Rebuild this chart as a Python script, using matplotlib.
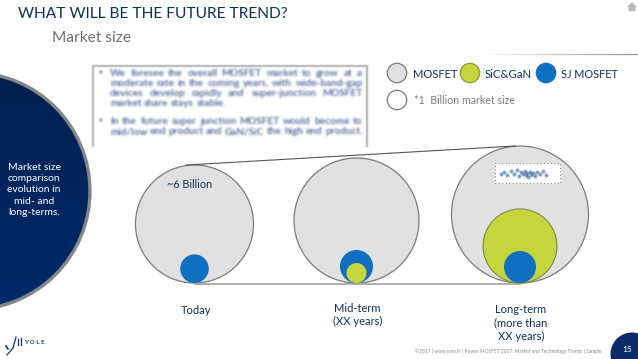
import numpy as np
import matplotlib
matplotlib.use("Agg")
import matplotlib.pyplot as plt
from matplotlib.patches import Circle, Polygon, Rectangle

plt.rcParams['font.family'] = ['Lato', 'DejaVu Sans']

# Schematic market-size circles, radius read in pixels
stages = ["Today", "Mid-term\n(XX years)", "Long-term\n(more than\nXX years)"]
stage_x = [194.5, 356.5, 520.0]
mosfet_r = [59.0, 62.5, 68.5]
sj_r = [14.3, 16.5, 16.0]
wbg_r = [0.0, 10.0, 37.0]
baseline_y = 283.0

NAVY = "#0f3057"
GREY_FILL = "#e1e1e1"
EDGE = "#7b7b7b"
GREEN = "#c5d53d"
BLUE = "#0f6fc0"
DARK = "#0a2b66"

legend_names = ["MOSFET", "SiC&GaN", "SJ MOSFET"]

body_lines = [
    ("We foresee the overall MOSFET market to grow at a", 73, True),
    ("moderate rate in the coming years, with wide-band-gap", 84, True),
    ("devices develop rapidly and super-junction MOSFET", 94, True),
    ("market share stays stable.", 104, False),
    ("In the future super junction MOSFET would become to", 121, True),
    ("mid/low end product and GaN/SiC the high end product.", 132, True),
]

# speckle seen in the masked area of the long-term circle
speck_x = [501, 504, 507, 511, 514, 517, 519, 521, 523, 525, 526, 527, 528, 530, 531, 533, 535, 537, 540, 543, 546]
speck_y = [174, 172, 175, 171, 174, 170, 176, 172, 174, 171, 175, 173, 177, 172, 175, 173, 176, 172, 174, 171, 175]


def blur(sigma):
    def f(img, dpi):
        rad = int(3 * sigma) + 1
        k = np.exp(-0.5 * (np.arange(-rad, rad + 1) / sigma) ** 2)
        k /= k.sum()
        pad = rad + 2
        out = np.zeros((img.shape[0] + 2 * pad, img.shape[1] + 2 * pad, 4))
        out[pad:-pad, pad:-pad] = img
        out[..., :3] *= out[..., 3:4]
        out = np.apply_along_axis(lambda v: np.convolve(v, k, mode="same"), 0, out)
        out = np.apply_along_axis(lambda v: np.convolve(v, k, mode="same"), 1, out)
        a = np.clip(out[..., 3:4], 1e-4, None)
        out[..., :3] = np.clip(out[..., :3] / a, 0, 1)
        return out, -pad, -pad
    return f


fig = plt.figure(figsize=(6.38, 3.59), dpi=100)
ax = fig.add_axes([0, 0, 1, 1])
ax.set_xlim(0, 638)
ax.set_ylim(359, 0)
ax.axis("off")
renderer = fig.canvas.get_renderer()

# titles
ax.text(18, 14, "WHAT WILL BE THE FUTURE TREND?", fontsize=11.2, color=NAVY,
        va="center", ha="left")
ax.text(52, 38, "Market size", fontsize=11.2, color="#6e6e6e", va="center", ha="left")

# faded rule at top right
xs = np.linspace(480, 638, 80)
for a, b, t in zip(xs[:-1], xs[1:], np.linspace(0, 1, 79)):
    ax.plot([a, b], [53.5, 53.5], color="#8a8a8a", alpha=t, lw=0.9, solid_capstyle="butt")

# home icon
ax.add_patch(Polygon([[627, 7], [632, 2], [637, 7], [635.5, 7], [635.5, 11], [628.5, 11], [628.5, 7]],
                     closed=True, fc="#b9b9b9", ec="none"))

# left navy disc, with the slide's vertical shading
disc = Circle((-28.5, 191), 118.5, fc="none", ec="#85868a", lw=2.4, zorder=3)
ax.add_patch(disc)
grad = np.linspace(0, 1, 128)[:, None]
cm = matplotlib.colors.LinearSegmentedColormap.from_list("n", ["#00204f", "#002a6c"])
im = ax.imshow(grad, extent=(-150, 92, 312, 70), cmap=cm, aspect="auto", zorder=2)
im.set_clip_path(Circle((-28.5, 191), 118.5, transform=ax.transData))
ax.set_xlim(0, 638)
ax.set_ylim(359, 0)
ax.text(34, 190, "Market size\ncomparison\nevolution in\nmid- and\nlong-terms.", color="white",
        fontsize=7.5, ha="center", va="center", linespacing=1.3, zorder=4)

# blurred text box, open at the bottom
ln, = ax.plot([93, 93, 367, 367], [146, 66, 66, 146], color="#b4b4b4", lw=1.5)
ln.set_agg_filter(blur(0.6))
LEFT, RIGHT = 110, 362
for s, y, justify in body_lines:
    words = s.split(" ")
    widths = []
    for w in words:
        probe = ax.text(0, 0, w, fontsize=7.2)
        widths.append(probe.get_window_extent(renderer).width)
        probe.remove()
    gap = (RIGHT - LEFT - sum(widths)) / (len(words) - 1) if justify else 3.0
    x = LEFT
    for w, width in zip(words, widths):
        t = ax.text(x, y, w, fontsize=7.2, color="#5a72a0", va="center", ha="left", fontweight="bold")
        t.set_agg_filter(blur(1.1))
        x += width + gap
for y in (73, 121):
    t = ax.text(98, y, "•", fontsize=7, color="#a5b0c5", va="center", ha="left")
    t.set_agg_filter(blur(0.7))

# legend
leg_x = [397, 470, 546]
leg_c = [GREY_FILL, GREEN, BLUE]
leg_e = [EDGE, "#8a9a30", BLUE]
leg_tx = [413, 485, 561]
leg_ty = [74, 75, 74]
leg_fs = [8, 8.2, 7.8]
for x, c, e, tx, ty, fs, name in zip(leg_x, leg_c, leg_e, leg_tx, leg_ty, leg_fs, legend_names):
    ax.add_patch(Circle((x, 73), 9.7, fc=c, ec=e, lw=0.9))
    ax.text(tx, ty, name, fontsize=fs, color=NAVY, va="center", ha="left")
ax.add_patch(Circle((397, 100), 9.7, fc="white", ec=EDGE, lw=0.9))
ax.text(414, 101, "*1  Billion market size", fontsize=7.7, color="#7d7d7d", va="center", ha="left")

# connecting lines
ax.plot([stage_x[0] - 8, stage_x[2] - 5], [baseline_y - 118, baseline_y - 137], color="#555555", lw=0.8)
ax.plot([stage_x[0], stage_x[2]], [baseline_y + 0.6, baseline_y + 0.6], color="#9a9a9a", lw=1.1)

# market circles
for x, R, s, g in zip(stage_x, mosfet_r, sj_r, wbg_r):
    ax.add_patch(Circle((x, baseline_y - R), R, fc=GREY_FILL, ec=EDGE, lw=0.9))
    if g > s:
        ax.add_patch(Circle((x, baseline_y - g), g, fc=GREEN, ec="#7f8a45", lw=0.8))
        ax.add_patch(Circle((x, baseline_y - s), s, fc=BLUE, ec="none"))
    else:
        ax.add_patch(Circle((x, baseline_y - s), s, fc=BLUE, ec="none"))
        if g > 0:
            ax.add_patch(Circle((x, baseline_y - g), g, fc=GREEN, ec="none"))

ax.text(190, 185, "~6 Billion", fontsize=7.8, color=NAVY, ha="center", va="center")
ax.text(196, 310, stages[0], fontsize=8, color=NAVY, ha="center", va="center")
ax.text(357.5, 315, stages[1], fontsize=8, color=NAVY, ha="center", va="center", linespacing=1.25)
ax.text(521, 323, stages[2], fontsize=8, color=NAVY, ha="center", va="center", linespacing=1.25)

# masked speckled patch in the long-term circle
ax.add_patch(Rectangle((495, 163), 65, 19.5, fc="white", ec="#222222", lw=0.5, ls=(0, (1, 4))))
sp = ax.scatter(speck_x, speck_y, s=7, color="#3d68a0", alpha=0.75, linewidths=0, zorder=5)
sp.set_agg_filter(blur(0.5))

# footer
ax.text(415, 351, "©2017 | www.yole.fr | Power MOSFET 2017: Market and Technology Trends | Sample",
        fontsize=3.5, color="#8a8a8a", ha="left", va="center")
ax.add_patch(Circle((632, 354), 21.5, fc=DARK, ec="none"))
ax.text(627, 350, "15", fontsize=6, color="white", ha="center", va="center")
ax.text(34, 342, "Y O L E", fontsize=4.6, color="#33475f", ha="center", va="center", fontweight="bold")
ax.plot([7, 13, 16], [355, 348, 337], color="#14365f", lw=0.9)
ax.plot([6, 8], [346, 349], color="#14365f", lw=1.2)
ax.plot([18, 18], [345, 339], color="#14365f", lw=0.9)
ax.plot([21, 21], [345, 338], color="#14365f", lw=0.9)

fig.savefig("out.png", dpi=100)
